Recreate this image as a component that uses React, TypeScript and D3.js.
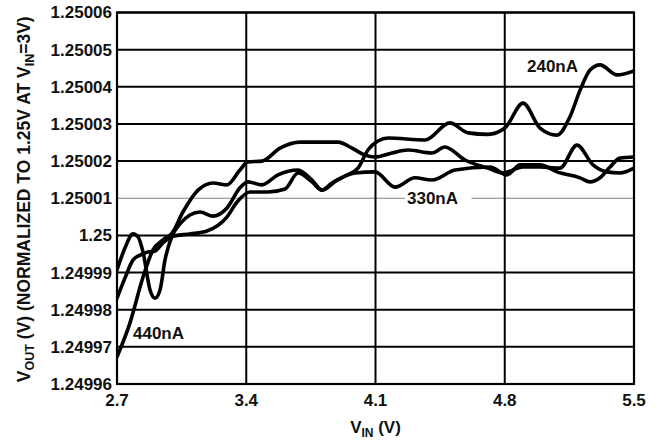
import React from 'react';
import * as d3 from 'd3';

const xTicks = [2.7, 3.4, 4.1, 4.8, 5.5];
const xTickLabels = ['2.7', '3.4', '4.1', '4.8', '5.5'];
const yTicks = [1.24996, 1.24997, 1.24998, 1.24999, 1.25, 1.25001, 1.25002, 1.25003, 1.25004, 1.25005, 1.25006];
const yTickLabels = ['1.24996', '1.24997', '1.24998', '1.24999', '1.25', '1.25001', '1.25002', '1.25003', '1.25004', '1.25005', '1.25006'];

const vin440 = [2.700, 2.770, 2.841, 2.895, 2.949, 2.998, 3.057, 3.139, 3.220, 3.296, 3.366, 3.409, 3.485, 3.583, 3.691, 3.897, 3.973, 4.043, 4.097, 4.189, 4.276, 4.406, 4.476, 4.585, 4.709, 4.791, 4.899, 4.991, 5.099, 5.191, 5.278, 5.354, 5.424, 5.500];
const vout440 = [1.2499673, 1.2499764, 1.2499888, 1.2499961, 1.2499988, 1.2500006, 1.2500063, 1.2500122, 1.2500141, 1.2500136, 1.2500176, 1.2500198, 1.2500200, 1.2500235, 1.2500251, 1.2500251, 1.2500235, 1.2500216, 1.2500211, 1.2500222, 1.2500230, 1.2500222, 1.2500238, 1.2500203, 1.2500181, 1.2500168, 1.2500184, 1.2500184, 1.2500181, 1.2500243, 1.2500190, 1.2500171, 1.2500168, 1.2500181];

const vin240 = [2.700, 2.743, 2.787, 2.814, 2.841, 2.879, 2.906, 2.933, 2.960, 2.998, 3.041, 3.095, 3.150, 3.220, 3.296, 3.366, 3.409, 3.485, 3.572, 3.680, 3.756, 3.810, 3.864, 3.935, 4.005, 4.059, 4.113, 4.168, 4.368, 4.503, 4.601, 4.709, 4.801, 4.899, 4.991, 5.083, 5.153, 5.208, 5.262, 5.316, 5.408, 5.500];
const vout240 = [1.2499907, 1.2499966, 1.2500004, 1.2499996, 1.2499955, 1.2499853, 1.2499831, 1.2499853, 1.2499934, 1.2499998, 1.2500031, 1.2500055, 1.2500063, 1.2500052, 1.2500074, 1.2500128, 1.2500144, 1.2500136, 1.2500163, 1.2500176, 1.2500149, 1.2500122, 1.2500141, 1.2500160, 1.2500181, 1.2500230, 1.2500254, 1.2500262, 1.2500257, 1.2500303, 1.2500276, 1.2500272, 1.2500289, 1.2500356, 1.2500289, 1.2500270, 1.2500319, 1.2500391, 1.2500445, 1.2500459, 1.2500432, 1.2500443];

const vin330 = [2.700, 2.743, 2.787, 2.825, 2.868, 2.906, 2.949, 3.003, 3.095, 3.187, 3.296, 3.350, 3.420, 3.518, 3.610, 3.680, 3.756, 3.810, 3.892, 3.989, 4.097, 4.206, 4.314, 4.406, 4.531, 4.720, 4.812, 4.883, 4.991, 5.083, 5.208, 5.262, 5.316, 5.370, 5.424, 5.500];
const vout330 = [1.2499831, 1.2499885, 1.2499934, 1.2499947, 1.2499955, 1.2499958, 1.2499980, 1.2499998, 1.2500004, 1.2500012, 1.2500050, 1.2500090, 1.2500117, 1.2500117, 1.2500125, 1.2500168, 1.2500144, 1.2500122, 1.2500149, 1.2500168, 1.2500171, 1.2500130, 1.2500155, 1.2500149, 1.2500176, 1.2500184, 1.2500163, 1.2500190, 1.2500190, 1.2500171, 1.2500155, 1.2500144, 1.2500155, 1.2500184, 1.2500208, 1.2500211];

const curveNames = ['440nA', '240nA', '330nA'];

const W = 659;
const H = 442;
const L = 117, R = 634, T = 12.5, B = 384;
const FONT = 'Liberation Sans, Arial, Helvetica, sans-serif';
const INK = '#111';

export default function App() {
  const x = d3.scaleLinear().domain([2.7, 5.5]).range([L, R]);
  const y = d3.scaleLinear().domain([1.24996, 1.25006]).range([B, T]);
  const line = d3.line<[number, number]>()
    .x(d => x(d[0]))
    .y(d => y(d[1]))
    .curve(d3.curveMonotoneX);
  const series: [number, number][][] = [
    vin440.map((v, i) => [v, vout440[i]] as [number, number]),
    vin240.map((v, i) => [v, vout240[i]] as [number, number]),
    vin330.map((v, i) => [v, vout330[i]] as [number, number]),
  ];

  return (
    <svg width={W} height={H} style={{ position: 'absolute', left: 0, top: 0, background: '#fff' }} fontFamily={FONT}>
      <defs>
        <clipPath id="plotclip">
          <rect x={L} y={T} width={R - L} height={B - T} />
        </clipPath>
      </defs>
      <rect x={0} y={0} width={W} height={H} fill="#fff" />
      {yTicks.map((t, i) => (
        t === 1.25001 ? (
          <g key={'h' + i}>
            <line x1={L} x2={x(4.26)} y1={y(t)} y2={y(t)} stroke="#808080" strokeWidth={1.2} />
            <line x1={x(4.62)} x2={R} y1={y(t)} y2={y(t)} stroke="#808080" strokeWidth={1.2} />
          </g>
        ) : (
          <line key={'h' + i} x1={L} x2={R} y1={y(t)} y2={y(t)} stroke="#000" strokeWidth={2} />
        )
      ))}
      {xTicks.map((t, i) => (
        <line key={'v' + i} x1={x(t)} x2={x(t)} y1={T} y2={B} stroke="#000" strokeWidth={2} />
      ))}
      <rect x={L} y={T} width={R - L} height={B - T} fill="none" stroke="#000" strokeWidth={2.2} />
      <g clipPath="url(#plotclip)">
        {series.map((s, i) => (
          <path key={curveNames[i]} d={line(s) || ''} fill="none" stroke="#000" strokeWidth={3.6} strokeLinejoin="round" strokeLinecap="round" />
        ))}
      </g>
      {yTicks.map((t, i) => (
        <text key={'yl' + i} x={112} y={y(t)} dy="0.35em" textAnchor="end" fontSize={17} fontWeight="bold" fill={INK}>
          {yTickLabels[i]}
        </text>
      ))}
      {xTicks.map((t, i) => (
        <text key={'xl' + i} x={x(t)} y={406} textAnchor="middle" fontSize={17} fontWeight="bold" fill={INK}>
          {xTickLabels[i]}
        </text>
      ))}
      <text x={527} y={72} fontSize={17} fontWeight="bold" fill={INK}>{curveNames[1]}</text>
      <text x={407} y={204} fontSize={17} fontWeight="bold" fill={INK}>{curveNames[2]}</text>
      <text x={133} y={339} fontSize={17} fontWeight="bold" fill={INK}>{curveNames[0]}</text>
      <text x={(L + R) / 2} y={433} textAnchor="middle" fontSize={17} fontWeight="bold" fill={INK}>
        V<tspan fontSize={12} dy={4}>IN</tspan><tspan dy={-4}> (V)</tspan>
      </text>
      <text transform={`translate(30, ${(T + B) / 2 + 1}) rotate(-90)`} textAnchor="middle" fontSize={17.5} fontWeight="bold" fill={INK}>
        V<tspan fontSize={12.5} dy={4}>OUT</tspan><tspan dy={-4}> (V) (NORMALIZED TO 1.25V AT V</tspan><tspan fontSize={12.5} dy={4}>IN</tspan><tspan dy={-4}>=3V)</tspan>
      </text>
    </svg>
  );
}
